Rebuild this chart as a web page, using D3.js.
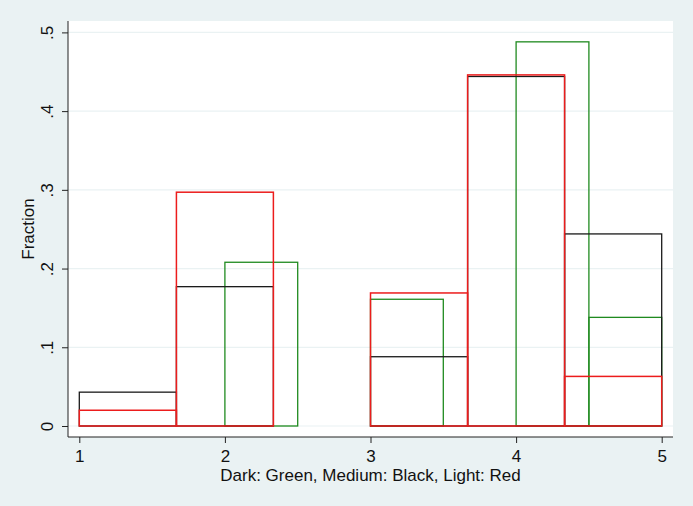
<!DOCTYPE html>
<html lang="en">
<head>
    <meta charset="UTF-8">
    <title>Fraction histograms</title>
    <script src="https://d3js.org/d3.v7.min.js"></script>
    <style>
        body {
            margin: 0;
            padding: 0;
            background-color: #eaf2f3;
        }
        svg {
            display: block;
            font-family: "Liberation Sans", Arial, sans-serif;
        }
        .axis path, .axis line {
            stroke: #222;
            stroke-width: 1;
        }
        .axis text {
            font-size: 17px;
            fill: #111;
        }
    </style>
</head>
<body>
    <svg id="chart"></svg>

    <script>
        const width = 693;
        const height = 506;

        // Dark (green) histogram: bin edges and fractions
        const greenEdges = [1, 1.5, 2, 2.5, 3, 3.5, 4, 4.5, 5];
        const greenValues = [0, 0, 0.208, 0, 0.161, 0, 0.488, 0.138];

        // Medium (black) and Light (red) share the same bins
        const binEdges = [1, 1.667, 2.333, 3, 3.667, 4.333, 5];
        const blackValues = [0.043, 0.177, 0, 0.088, 0.444, 0.244];
        const redValues = [0.020, 0.297, 0, 0.169, 0.446, 0.063];

        const xTicks = [1, 2, 3, 4, 5];
        const yTicks = [0, 0.1, 0.2, 0.3, 0.4, 0.5];

        // Plot region box
        const plot = {left: 68, right: 673, top: 21, bottom: 437};

        const svg = d3.select('#chart')
            .attr('width', width)
            .attr('height', height);

        svg.append('rect')
            .attr('width', width)
            .attr('height', height)
            .attr('fill', '#eaf2f3');

        svg.append('rect')
            .attr('x', plot.left)
            .attr('y', plot.top)
            .attr('width', plot.right - plot.left)
            .attr('height', plot.bottom - plot.top)
            .attr('fill', '#fff');

        const x = d3.scaleLinear().domain([1, 5]).range([79.3, 661.7]);
        const y = d3.scaleLinear().domain([0, 0.5]).range([426, 32.4]);

        // Horizontal grid lines
        svg.selectAll('.grid')
            .data(yTicks)
            .enter()
            .append('line')
            .attr('class', 'grid')
            .attr('x1', plot.left)
            .attr('x2', plot.right)
            .attr('y1', d => y(d))
            .attr('y2', d => y(d))
            .attr('stroke', '#eaf2f3')
            .attr('stroke-width', 1.2);

        // Build bin objects from edges + values, skip empty bins
        const toBins = (edges, values) => values
            .map((v, i) => ({x0: edges[i], x1: edges[i + 1], v: v}))
            .filter(d => d.v > 0);

        const series = [
            {name: 'green', color: '#1f8a1f', width: 1.3, bins: toBins(greenEdges, greenValues)},
            {name: 'black', color: '#1a1a1a', width: 1.3, bins: toBins(binEdges, blackValues)},
            {name: 'red', color: '#ec1c1c', width: 1.5, bins: toBins(binEdges, redValues)}
        ];

        series.forEach(s => {
            svg.selectAll('.bar-' + s.name)
                .data(s.bins)
                .enter()
                .append('rect')
                .attr('class', 'bar-' + s.name)
                .attr('x', d => x(d.x0))
                .attr('y', d => y(d.v))
                .attr('width', d => x(d.x1) - x(d.x0))
                .attr('height', d => y(0) - y(d.v))
                .attr('fill', 'none')
                .attr('stroke', s.color)
                .attr('stroke-width', s.width);
        });

        // Y axis
        const fmtY = d => d === 0 ? '0' : d3.format('.1f')(d).replace(/^0/, '');
        const yAxis = svg.append('g')
            .attr('class', 'axis')
            .attr('transform', `translate(${plot.left},0)`)
            .call(d3.axisLeft(y).tickValues(yTicks).tickFormat(fmtY).tickSize(6).tickSizeOuter(0));
        yAxis.select('.domain').attr('d', `M0,${plot.top}V${plot.bottom}`);
        yAxis.selectAll('text')
            .attr('x', 0)
            .attr('dy', 0)
            .attr('text-anchor', 'middle')
            .attr('transform', 'translate(-15,0) rotate(-90)');

        // X axis
        const xAxis = svg.append('g')
            .attr('class', 'axis')
            .attr('transform', `translate(0,${plot.bottom})`)
            .call(d3.axisBottom(x).tickValues(xTicks).tickFormat(d3.format('d')).tickSize(6).tickSizeOuter(0));
        xAxis.select('.domain').attr('d', `M${plot.left},0H${plot.right}`);
        xAxis.selectAll('text')
            .attr('y', 25)
            .attr('dy', 0);

        // Axis titles
        svg.append('text')
            .attr('x', (plot.left + plot.right) / 2)
            .attr('y', 481)
            .attr('text-anchor', 'middle')
            .attr('font-size', 17)
            .attr('fill', '#111')
            .text('Dark: Green, Medium: Black, Light: Red');

        svg.append('text')
            .attr('transform', `translate(34,${(plot.top + plot.bottom) / 2}) rotate(-90)`)
            .attr('text-anchor', 'middle')
            .attr('font-size', 17)
            .attr('fill', '#111')
            .text('Fraction');
    </script>
</body>
</html>
